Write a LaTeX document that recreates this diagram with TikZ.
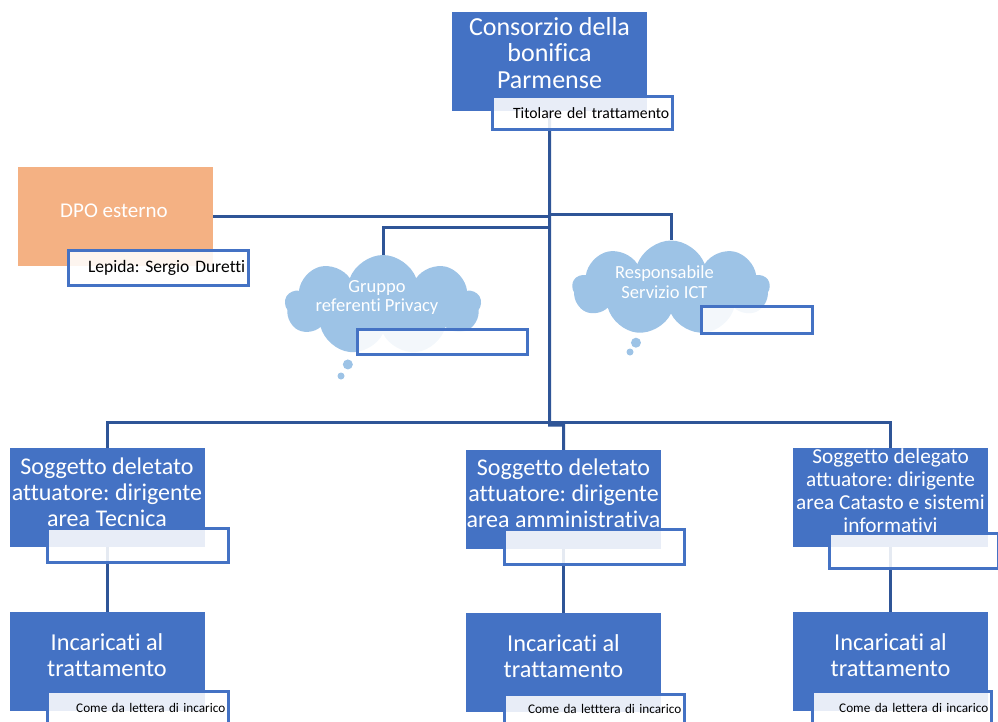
\documentclass[tikz,border=0pt]{standalone}
\usepackage{fontspec}
\setmainfont{Carlito}[Ligatures=NoCommon]
\usetikzlibrary{shapes.symbols,shapes.callouts}
\definecolor{boxblue}{HTML}{4472C4}
\definecolor{linecol}{HTML}{2F5597}
\definecolor{dpocol}{HTML}{F4B183}
\definecolor{cloudcol}{HTML}{9DC3E6}
\pgfdeclarelayer{bg}
\pgfsetlayers{bg,main}
\frenchspacing
\begin{document}
\begin{tikzpicture}[x=1pt,y=-1pt,
  bluebox/.style={fill=boxblue, draw=none, inner sep=0, anchor=north west, minimum width=195, minimum height=99},
  wtext/.style={text=white, align=center, inner sep=0},
  wbox/.style={fill=white, fill opacity=0.88, text opacity=1, draw=boxblue, line width=2.5pt, anchor=north west, inner xsep=3pt, inner ysep=0, align=right},
  conn/.style={draw=linecol, line width=3pt},
  cloudbox/.style={cloud callout, cloud puffs=9, cloud puff arc=140, cloud ignores aspect, fill=cloudcol, draw=none, inner sep=0, callout pointer start size=15pt and 13pt, callout pointer end size=8pt and 7pt, callout pointer segments=2}
]
\useasboundingbox (0,0) rectangle (998,721);
\clip (0,0) rectangle (998,721);

% blue boxes
\node[bluebox] (top) at (452,12) {};
\node[bluebox, fill=dpocol] (dpo) at (18,167) {};
\node[bluebox] (s1) at (10,448) {};
\node[bluebox] (s2) at (466,450) {};
\node[bluebox] (s3) at (793,448) {};
\node[bluebox] (i1) at (10,612) {};
\node[bluebox] (i2) at (466,613) {};
\node[bluebox] (i3) at (793,612) {};

% clouds
\node[cloudbox, minimum width=196, minimum height=100, callout absolute pointer={(341,376)}] (priv) at (383,305) {};
\node[cloudbox, minimum width=197, minimum height=95, callout absolute pointer={(630,352)}] (ict) at (671,288) {};

% connectors
\begin{pgfonlayer}{bg}
\coordinate (j1) at (549.5,422);
\coordinate (j2) at (549.5,425);
\draw[conn] (top.south) -- (j2) -| (s2.north);
\draw[conn] (dpo.east) -- (dpo.east -| top.south);
\draw[conn] (top.south |- 0,214) -| (ict.north);
\draw[conn] (top.south |- 0,227) -| (priv.north);
\draw[conn] (s1.north) |- (s3.north |- j1) -- (s3.north);
\draw[conn] (s1.south) -- (i1.north);
\draw[conn] (s2.south) -- (i2.north);
\draw[conn] (s3.south) -- (i3.north);
\end{pgfonlayer}

% texts in blue boxes
\node[wtext, font=\fontsize{26}{26.5}\selectfont] (topT) at (549.5,53) {Consorzio della\\bonifica\\Parmense};
\node[wtext, font=\fontsize{21}{22}\selectfont] (dpoT) at (114,211) {DPO esterno};
\node[wtext, font=\fontsize{24}{26}\selectfont] (s1T) at (107,492) {Soggetto deletato\\attuatore: dirigente\\area Tecnica};
\node[wtext, font=\fontsize{24}{26}\selectfont] (s2T) at (563.5,493) {Soggetto deletato\\attuatore: dirigente\\area amministrativa};
\node[wtext, font=\fontsize{21.3}{23}\selectfont] (s3T) at (890.5,491) {Soggetto delegato\\attuatore: dirigente\\area Catasto e sistemi\\informativi};
\node[wtext, font=\fontsize{24.3}{26}\selectfont] (i1T) at (107,655.5) {Incaricati al\\trattamento};
\node[wtext, font=\fontsize{24.3}{26}\selectfont] (i2T) at (563.5,656) {Incaricati al\\trattamento};
\node[wtext, font=\fontsize{24.3}{26}\selectfont] (i3T) at (890.5,655.5) {Incaricati al\\trattamento};
\node[wtext, font=\fontsize{18.5}{19.5}\selectfont] (privT) at (377,297.5) {Gruppo\\referenti Privacy};
\node[wtext, font=\fontsize{18.5}{20}\selectfont] (ictT) at (664.5,282) {Responsabile\\Servizio ICT};

% white label boxes
\node[wbox, text width=174, minimum height=33, font=\fontsize{15.7}{16}\selectfont] (tit) at (491,95) {Titolare del trattamento};
\node[wbox, text width=174, minimum height=35, font=\fontsize{17.5}{17}\selectfont] (lep) at (67,249) {Lepida: Sergio Duretti};
\node[wbox, minimum width=170, minimum height=25] (pb) at (356,328) {};
\node[wbox, minimum width=111, minimum height=27] (ib) at (700,305) {};
\node[wbox, minimum width=181, minimum height=34] (w1) at (46,527) {};
\node[wbox, minimum width=180, minimum height=35] (w2) at (503,528) {};
\node[wbox, minimum width=169, minimum height=35] (w3) at (828,532) {};
\node[wbox, text width=175, minimum height=34, font=\fontsize{13.2}{14}\selectfont] (c1) at (46,690) {Come da lettera di incarico};
\node[wbox, text width=174, minimum height=30, font=\fontsize{13.2}{14}\selectfont] (c2) at (503,693) {Come da letttera di incarico};
\node[wbox, text width=173, minimum height=34, font=\fontsize{13.2}{14}\selectfont] (c3) at (811,690) {Come da lettera di incarico};
\end{tikzpicture}
\end{document}
